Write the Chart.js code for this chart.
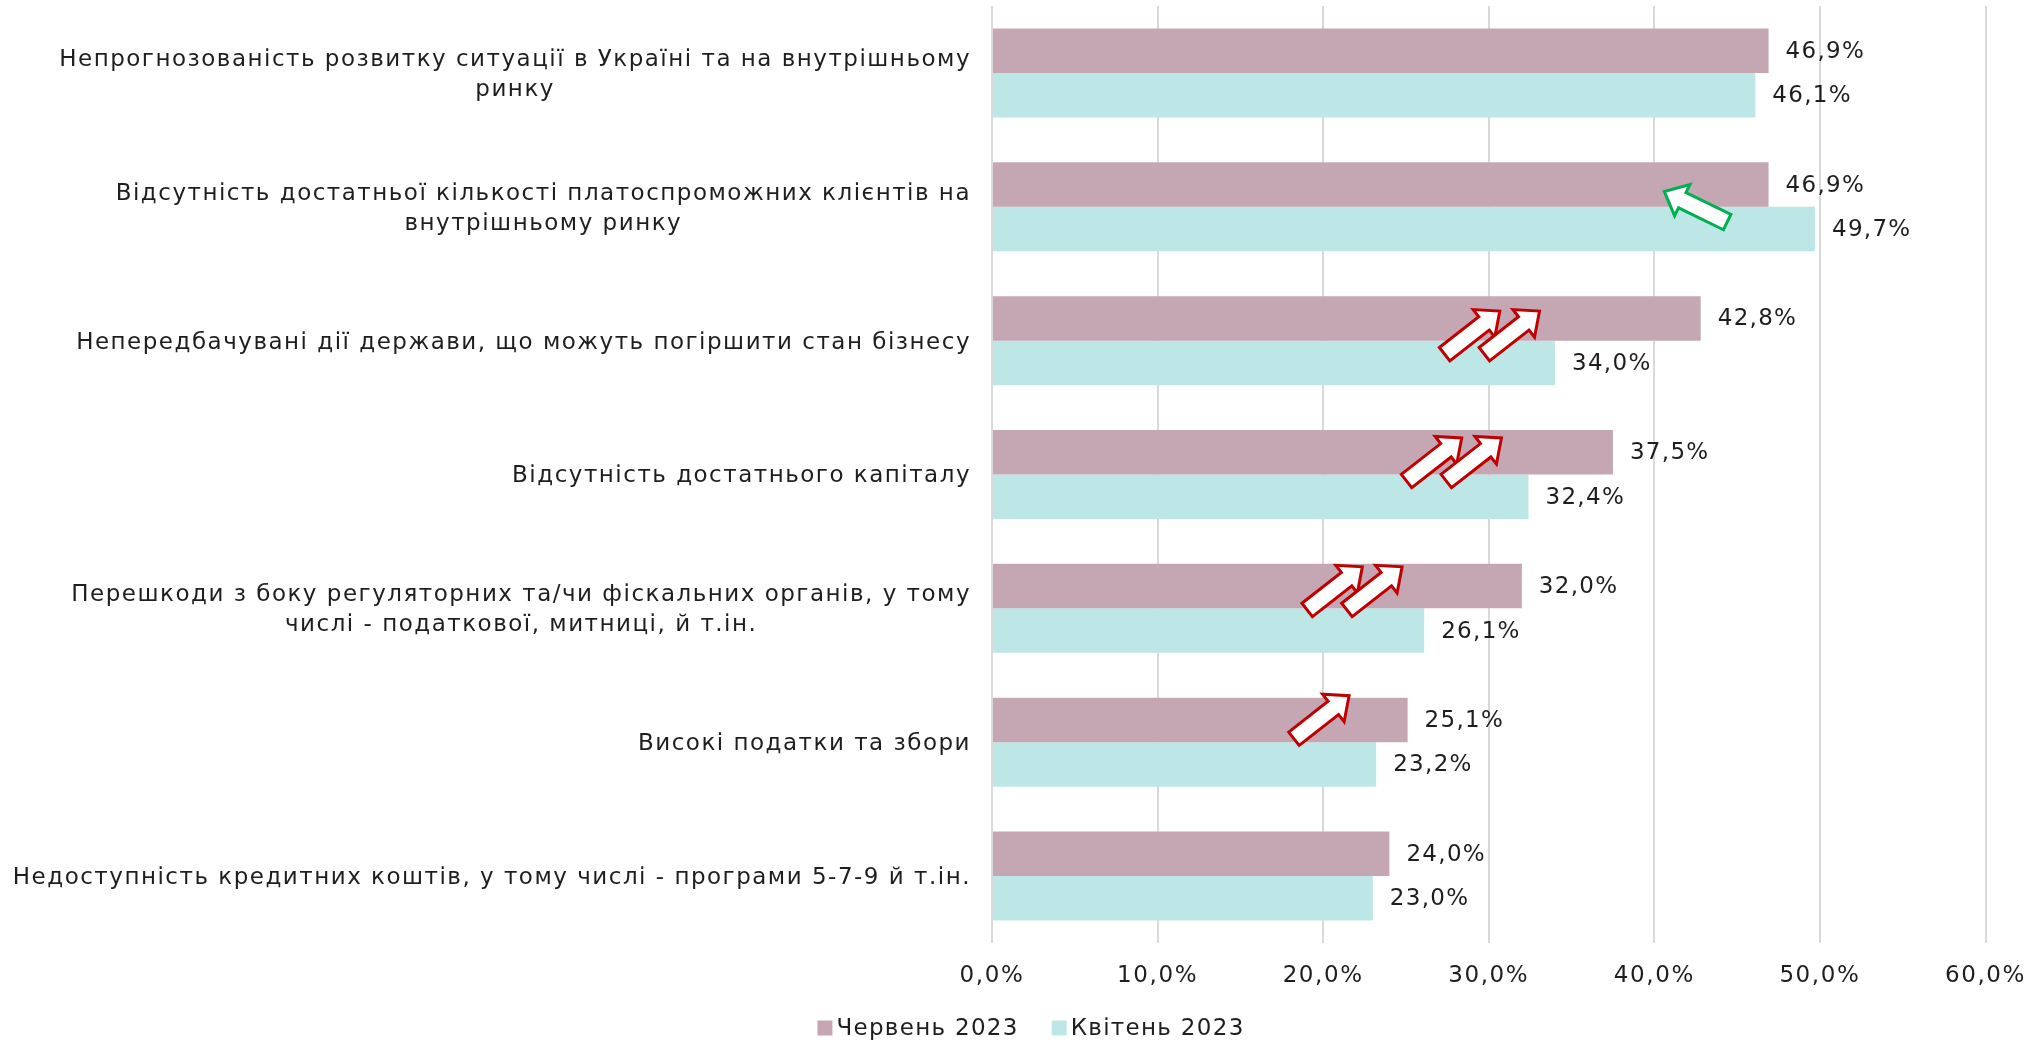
<!DOCTYPE html>
<html>
<head>
<meta charset="utf-8">
<script src="https://cdn.jsdelivr.net/npm/chart.js@4.4.1/dist/chart.umd.min.js"></script>
<style>
  html, body { margin: 0; padding: 0; background: #fff; }
  #wrap { width: 2036px; height: 1041px; }
</style>
</head>
<body>
<div id="wrap"><canvas id="obstacleChart"></canvas></div>
<script>
// chart data
const categories = [
    ['Непрогнозованість розвитку ситуації в Україні та на внутрішньому', 'ринку'],
    ['Відсутність достатньої кількості платоспроможних клієнтів на', 'внутрішньому ринку'],
    ['Непередбачувані дії держави, що можуть погіршити стан бізнесу'],
    ['Відсутність достатнього капіталу'],
    ['Перешкоди з боку регуляторних та/чи фіскальних органів, у тому', 'числі - податкової, митниці, й т.ін.'],
    ['Високі податки та збори'],
    ['Недоступність кредитних коштів, у тому числі - програми 5-7-9 й т.ін.']
];
const seriesNames = ['Червень 2023', 'Квітень 2023'];
const june2023 = [46.9, 46.9, 42.8, 37.5, 32.0, 25.1, 24.0];
const april2023 = [46.1, 49.7, 34.0, 32.4, 26.1, 23.2, 23.0];
const xTicks = [0, 10, 20, 30, 40, 50, 60];

// change arrows drawn over the bars (category index, x value of arrow centre)
const changeArrows = [
    { cat: 1, at: 42.5, shift: 0, angle: -154, color: '#00b050' },
    { cat: 2, at: 29.0, shift: -8, angle: -38, color: '#c00000' },
    { cat: 2, at: 31.4, shift: -8, angle: -38, color: '#c00000' },
    { cat: 3, at: 26.7, shift: -15, angle: -38, color: '#c00000' },
    { cat: 3, at: 29.1, shift: -15, angle: -38, color: '#c00000' },
    { cat: 4, at: 20.7, shift: -20, angle: -38, color: '#c00000' },
    { cat: 4, at: 23.1, shift: -20, angle: -38, color: '#c00000' },
    { cat: 5, at: 19.9, shift: -25, angle: -38, color: '#c00000' }
];

const FONT = '"DejaVu Sans", sans-serif';
const TEXT = '#1e1e1e';
const colors = ['#c5a7b4', '#bde7e6'];

const fmt = v => v.toFixed(1).replace('.', ',') + '%';

// wider spacing for the axis ticks, the reference font is a wide one
const spacingPlugin = {
    id: 'spacing',
    beforeLayout(chart) { chart.ctx.letterSpacing = '1.6px'; },
    beforeDraw(chart) { chart.ctx.letterSpacing = '1.6px'; }
};

// y labels: right aligned block, lines centred on each other (like Excel)
const yLabelPlugin = {
    id: 'yLabels',
    afterDraw(chart) {
        const scale = chart.scales.y;
        const ctx = chart.ctx;
        const lh = 30;
        const xRight = chart.chartArea.left - 21;
        ctx.save();
        ctx.letterSpacing = '1.5px';
        ctx.font = '23px ' + FONT;
        ctx.fillStyle = TEXT;
        ctx.textAlign = 'center';
        ctx.textBaseline = 'middle';
        categories.forEach((lines, i) => {
            const y = scale.getPixelForTick(i) + 2;
            const widest = Math.max(...lines.map(l => ctx.measureText(l).width));
            const y0 = y - (lines.length - 1) * lh / 2;
            lines.forEach((l, j) => ctx.fillText(l, xRight - widest / 2, y0 + j * lh));
        });
        ctx.restore();
    }
};

const valueLabelPlugin = {
    id: 'valueLabels',
    afterDatasetsDraw(chart) {
        const ctx = chart.ctx;
        ctx.save();
        ctx.letterSpacing = '1.3px';
        ctx.font = '23px ' + FONT;
        ctx.fillStyle = TEXT;
        ctx.textAlign = 'left';
        ctx.textBaseline = 'middle';
        chart.data.datasets.forEach((ds, di) => {
            chart.getDatasetMeta(di).data.forEach((bar, i) => {
                ctx.fillText(fmt(ds.data[i]), bar.x + 17, bar.y + 1);
            });
        });
        ctx.restore();
    }
};

const arrowPlugin = {
    id: 'changeArrows',
    afterDatasetsDraw(chart) {
        const ctx = chart.ctx;
        const x = chart.scales.x, y = chart.scales.y;
        const L = 70, s = 8.5, h = 17.5, hl = 20;
        changeArrows.forEach(a => {
            const cx = x.getPixelForValue(a.at);
            const cy = y.getPixelForTick(a.cat) + a.shift;
            ctx.save();
            ctx.translate(cx, cy);
            ctx.rotate(a.angle * Math.PI / 180);
            ctx.beginPath();
            ctx.moveTo(-L / 2, -s);
            ctx.lineTo(L / 2 - hl, -s);
            ctx.lineTo(L / 2 - hl, -h);
            ctx.lineTo(L / 2, 0);
            ctx.lineTo(L / 2 - hl, h);
            ctx.lineTo(L / 2 - hl, s);
            ctx.lineTo(-L / 2, s);
            ctx.closePath();
            ctx.fillStyle = '#ffffff';
            ctx.fill();
            ctx.lineWidth = 3;
            ctx.strokeStyle = a.color;
            ctx.stroke();
            ctx.restore();
        });
    }
};

// legend at the bottom, small square close to the text like the Excel one
const legendPlugin = {
    id: 'bottomLegend',
    afterDraw(chart) {
        const ctx = chart.ctx;
        const box = 15, gap = 4, itemGap = 33;
        ctx.save();
        ctx.letterSpacing = '1.3px';
        ctx.font = '23px ' + FONT;
        ctx.textBaseline = 'middle';
        ctx.textAlign = 'left';
        const items = chart.data.datasets.map(ds => ({ text: ds.label, color: ds.backgroundColor, w: ctx.measureText(ds.label).width }));
        const total = items.reduce((s, it) => s + box + gap + it.w, 0) + itemGap * (items.length - 1);
        let x = chart.width / 2 + 13 - total / 2;
        const y = chart.height - 13;
        items.forEach(it => {
            ctx.fillStyle = it.color;
            ctx.fillRect(x, y - box / 2, box, box);
            ctx.fillStyle = TEXT;
            ctx.fillText(it.text, x + box + gap, y + 1);
            x += box + gap + it.w + itemGap;
        });
        ctx.restore();
    }
};

const ctx = document.getElementById('obstacleChart').getContext('2d');
new Chart(ctx, {
    type: 'bar',
    data: {
        labels: categories,
        datasets: [
            { label: seriesNames[0], data: june2023, backgroundColor: colors[0] },
            { label: seriesNames[1], data: april2023, backgroundColor: colors[1] }
        ]
    },
    options: {
        indexAxis: 'y',
        responsive: true,
        maintainAspectRatio: false,
        devicePixelRatio: 1,
        animation: false,
        categoryPercentage: 0.665,
        barPercentage: 1.0,
        layout: { padding: { top: 6, left: 0, right: 0, bottom: 48 } },
        scales: {
            x: {
                min: 0,
                max: 60,
                afterBuildTicks: scale => { scale.ticks = xTicks.map(v => ({ value: v })); },
                afterFit: scale => { scale.height = 50; scale.paddingRight = 50.5; },
                grid: { color: '#d9d9d9', lineWidth: 2, drawTicks: false },
                border: { display: false },
                ticks: {
                    padding: 19,
                    color: TEXT,
                    font: { family: FONT, size: 23 },
                    callback: v => fmt(v)
                }
            },
            y: {
                afterFit: scale => { scale.width = 992; },
                grid: { display: false },
                border: { display: false },
                ticks: { display: false }
            }
        },
        plugins: {
            legend: { display: false },
            tooltip: { enabled: false }
        }
    },
    plugins: [spacingPlugin, yLabelPlugin, valueLabelPlugin, arrowPlugin, legendPlugin]
});
</script>
</body>
</html>
